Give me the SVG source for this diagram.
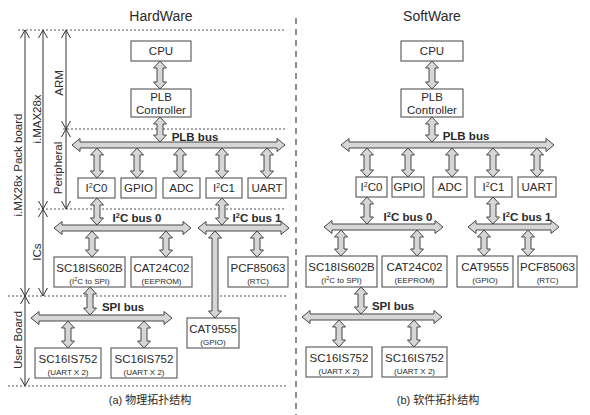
<svg xmlns="http://www.w3.org/2000/svg" width="590" height="415" viewBox="0 0 590 415">
<style>
text{font-family:"Liberation Sans",Arial,sans-serif;fill:#2a2a2a}
.t{font-size:14px;text-anchor:middle}
.b{font-size:11.5px;text-anchor:middle}
.s{font-size:8px;text-anchor:middle}
.bus{font-size:11.5px;font-weight:bold;text-anchor:middle}
.lab{font-size:11.5px;text-anchor:middle}
.cap{font-size:11px;text-anchor:middle;font-family:"Liberation Sans","Noto Sans CJK SC",sans-serif}
.box{fill:#fff;stroke:#555;stroke-width:1.1}
.arr{fill:#d6d6d6;stroke:#474747;stroke-width:1}
.dot{stroke:#555;stroke-width:1;stroke-dasharray:2 2;fill:none}
.dash{stroke:#444;stroke-width:1.2;stroke-dasharray:6 5;fill:none}
.dim{stroke:#333;stroke-width:1;fill:none;marker-start:url(#v);marker-end:url(#v)}
</style>
<defs>
<marker id="v" markerWidth="12" markerHeight="12" refX="0" refY="0" orient="auto-start-reverse" markerUnits="userSpaceOnUse" viewBox="-10 -6 12 12" overflow="visible"><path d="M-8,-4.5 L0,0 L-8,4.5" fill="none" stroke="#333" stroke-width="1"/></marker>
</defs>

<g id="frame">
<line class="dash" x1="296" y1="18" x2="296" y2="415"/>
<line class="dot" x1="18" y1="30" x2="286" y2="30"/>
<line class="dot" x1="63" y1="129" x2="286" y2="129"/>
<line class="dot" x1="38" y1="209" x2="286" y2="209"/>
<line class="dot" x1="8" y1="296" x2="286" y2="296"/>
<line class="dot" x1="8" y1="386" x2="286" y2="386"/>
<line class="dim" x1="25" y1="30" x2="25" y2="296"/>
<line class="dim" x1="25" y1="296" x2="25" y2="386"/>
<line class="dim" x1="43" y1="30" x2="43" y2="209"/>
<line class="dim" x1="43" y1="209" x2="43" y2="296"/>
<line class="dim" x1="66" y1="30" x2="66" y2="129"/>
<line class="dim" x1="66" y1="129" x2="66" y2="209"/>
<text class="lab" transform="translate(22,165) rotate(-90)">i.MX28x Pack board</text>
<text class="lab" transform="translate(22,340) rotate(-90)">User Board</text>
<text class="lab" transform="translate(41,119) rotate(-90)">i.MAX28x</text>
<text class="lab" transform="translate(41,252) rotate(-90)">ICs</text>
<text class="lab" transform="translate(63,83) rotate(-90)">ARM</text>
<text class="lab" transform="translate(62,168) rotate(-90)">Peripheral</text>
<text class="t" x="161" y="21">HardWare</text>
<text class="t" x="432" y="21">SoftWare</text>
<text class="cap" x="150" y="404">(a)  物理拓扑结构</text>
<text class="cap" x="438" y="404">(b)  软件拓扑结构</text>
</g>

<g id="connectors">
<path class="arr" d="M160,61 l6.5,7 h-3.5 V82 h3.5 l-6.5,7 l-6.5,-7 h3.5 V68 h-3.5z"/>
<path class="arr" d="M160,117 l6.5,7 h-3.5 V135 h3.5 l-6.5,7 l-6.5,-7 h3.5 V124 h-3.5z"/>
<path class="arr" d="M72,145 l8,-6.5 v3.5 H277 v-3.5 l8,6.5 l-8,6.5 v-3.5 H80 v3.5z"/>
<path class="arr" d="M97,148 l6.5,7 h-3.5 V171 h3.5 l-6.5,7 l-6.5,-7 h3.5 V155 h-3.5z"/>
<path class="arr" d="M137,148 l6.5,7 h-3.5 V171 h3.5 l-6.5,7 l-6.5,-7 h3.5 V155 h-3.5z"/>
<path class="arr" d="M180,148 l6.5,7 h-3.5 V171 h3.5 l-6.5,7 l-6.5,-7 h3.5 V155 h-3.5z"/>
<path class="arr" d="M222,148 l6.5,7 h-3.5 V171 h3.5 l-6.5,7 l-6.5,-7 h3.5 V155 h-3.5z"/>
<path class="arr" d="M267,148 l6.5,7 h-3.5 V171 h3.5 l-6.5,7 l-6.5,-7 h3.5 V155 h-3.5z"/>
<path class="arr" d="M97,198 l6.5,7 h-3.5 V218 h3.5 l-6.5,7 l-6.5,-7 h3.5 V205 h-3.5z"/>
<path class="arr" d="M54,228 l8,-6.5 v3.5 H183 v-3.5 l8,6.5 l-8,6.5 v-3.5 H62 v3.5z"/>
<path class="arr" d="M222,198 l6.5,7 h-3.5 V218 h3.5 l-6.5,7 l-6.5,-7 h3.5 V205 h-3.5z"/>
<path class="arr" d="M198,228 l8,-6.5 v3.5 H281 v-3.5 l8,6.5 l-8,6.5 v-3.5 H206 v3.5z"/>
<path class="arr" d="M92,231 l6.5,7 h-3.5 V250 h3.5 l-6.5,7 l-6.5,-7 h3.5 V238 h-3.5z"/>
<path class="arr" d="M166,231 l6.5,7 h-3.5 V250 h3.5 l-6.5,7 l-6.5,-7 h3.5 V238 h-3.5z"/>
<path class="arr" d="M257,231 l6.5,7 h-3.5 V250 h3.5 l-6.5,7 l-6.5,-7 h3.5 V238 h-3.5z"/>
<path class="arr" d="M215,231 l6.5,7 h-3.5 V311 h3.5 l-6.5,7 l-6.5,-7 h3.5 V238 h-3.5z"/>
<path class="arr" d="M90,287 l6.5,7 h-3.5 V308 h3.5 l-6.5,7 l-6.5,-7 h3.5 V294 h-3.5z"/>
<path class="arr" d="M31,318 l8,-6.5 v3.5 H164 v-3.5 l8,6.5 l-8,6.5 v-3.5 H39 v3.5z"/>
<path class="arr" d="M68,321 l6.5,7 h-3.5 V341 h3.5 l-6.5,7 l-6.5,-7 h3.5 V328 h-3.5z"/>
<path class="arr" d="M144,321 l6.5,7 h-3.5 V341 h3.5 l-6.5,7 l-6.5,-7 h3.5 V328 h-3.5z"/>

<path class="arr" d="M432,61 l6.5,7 h-3.5 V82 h3.5 l-6.5,7 l-6.5,-7 h3.5 V68 h-3.5z"/>
<path class="arr" d="M432,117 l6.5,7 h-3.5 V135 h3.5 l-6.5,7 l-6.5,-7 h3.5 V124 h-3.5z"/>
<path class="arr" d="M341,145 l8,-6.5 v3.5 H546 v-3.5 l8,6.5 l-8,6.5 v-3.5 H349 v3.5z"/>
<path class="arr" d="M367,148 l6.5,7 h-3.5 V170 h3.5 l-6.5,7 l-6.5,-7 h3.5 V155 h-3.5z"/>
<path class="arr" d="M408,148 l6.5,7 h-3.5 V170 h3.5 l-6.5,7 l-6.5,-7 h3.5 V155 h-3.5z"/>
<path class="arr" d="M452,148 l6.5,7 h-3.5 V170 h3.5 l-6.5,7 l-6.5,-7 h3.5 V155 h-3.5z"/>
<path class="arr" d="M493,148 l6.5,7 h-3.5 V170 h3.5 l-6.5,7 l-6.5,-7 h3.5 V155 h-3.5z"/>
<path class="arr" d="M537,148 l6.5,7 h-3.5 V170 h3.5 l-6.5,7 l-6.5,-7 h3.5 V155 h-3.5z"/>
<path class="arr" d="M367,197 l6.5,7 h-3.5 V217 h3.5 l-6.5,7 l-6.5,-7 h3.5 V204 h-3.5z"/>
<path class="arr" d="M324,227 l8,-6.5 v3.5 H435 v-3.5 l8,6.5 l-8,6.5 v-3.5 H332 v3.5z"/>
<path class="arr" d="M493,197 l6.5,7 h-3.5 V217 h3.5 l-6.5,7 l-6.5,-7 h3.5 V204 h-3.5z"/>
<path class="arr" d="M468,227 l8,-6.5 v3.5 H551 v-3.5 l8,6.5 l-8,6.5 v-3.5 H476 v3.5z"/>
<path class="arr" d="M341,230 l6.5,7 h-3.5 V249 h3.5 l-6.5,7 l-6.5,-7 h3.5 V237 h-3.5z"/>
<path class="arr" d="M417,230 l6.5,7 h-3.5 V249 h3.5 l-6.5,7 l-6.5,-7 h3.5 V237 h-3.5z"/>
<path class="arr" d="M484,230 l6.5,7 h-3.5 V249 h3.5 l-6.5,7 l-6.5,-7 h3.5 V237 h-3.5z"/>
<path class="arr" d="M528,230 l6.5,7 h-3.5 V249 h3.5 l-6.5,7 l-6.5,-7 h3.5 V237 h-3.5z"/>
<path class="arr" d="M361,287 l6.5,7 h-3.5 V307 h3.5 l-6.5,7 l-6.5,-7 h3.5 V294 h-3.5z"/>
<path class="arr" d="M302,317 l8,-6.5 v3.5 H434 v-3.5 l8,6.5 l-8,6.5 v-3.5 H310 v3.5z"/>
<path class="arr" d="M339,320 l6.5,7 h-3.5 V340 h3.5 l-6.5,7 l-6.5,-7 h3.5 V327 h-3.5z"/>
<path class="arr" d="M414,320 l6.5,7 h-3.5 V340 h3.5 l-6.5,7 l-6.5,-7 h3.5 V327 h-3.5z"/>

<text class="bus" x="195" y="141">PLB bus</text>
<text class="bus" x="137" y="222">I<tspan dy="-4" font-size="7.5">2</tspan><tspan dy="4">C bus 0</tspan></text>
<text class="bus" x="257" y="222">I<tspan dy="-4" font-size="7.5">2</tspan><tspan dy="4">C bus 1</tspan></text>
<text class="bus" x="123" y="311">SPI bus</text>
<text class="bus" x="466" y="140">PLB bus</text>
<text class="bus" x="408" y="221">I<tspan dy="-4" font-size="7.5">2</tspan><tspan dy="4">C bus 0</tspan></text>
<text class="bus" x="527" y="221">I<tspan dy="-4" font-size="7.5">2</tspan><tspan dy="4">C bus 1</tspan></text>
<text class="bus" x="393" y="310">SPI bus</text>
</g>

<g id="hw-cpu"><rect class="box" x="131" y="41" width="60" height="20"/><text class="b" x="161" y="55">CPU</text></g>
<g id="hw-plb"><rect class="box" x="131" y="89" width="60" height="28"/><text class="b" x="161" y="101">PLB</text><text class="b" x="161" y="114">Controller</text></g>
<g id="hw-i2c0"><rect class="box" x="78" y="178" width="37" height="20"/><text class="b" x="96.5" y="192">I<tspan dy="-4" font-size="7">2</tspan><tspan dy="4">C0</tspan></text></g>
<g id="hw-gpio"><rect class="box" x="121" y="178" width="35" height="20"/><text class="b" x="138.5" y="192">GPIO</text></g>
<g id="hw-adc"><rect class="box" x="163" y="178" width="37" height="20"/><text class="b" x="181.5" y="192">ADC</text></g>
<g id="hw-i2c1"><rect class="box" x="206" y="178" width="36" height="20"/><text class="b" x="224" y="192">I<tspan dy="-4" font-size="7">2</tspan><tspan dy="4">C1</tspan></text></g>
<g id="hw-uart"><rect class="box" x="248" y="178" width="38" height="20"/><text class="b" x="267" y="192">UART</text></g>
<g id="hw-sc18"><rect class="box" x="54" y="257" width="71" height="30"/><text class="b" x="89.5" y="272">SC18IS602B</text><text class="s" x="89.5" y="283.5">(I<tspan dy="-3" font-size="5.5">2</tspan><tspan dy="3">C to SPI)</tspan></text></g>
<g id="hw-cat24"><rect class="box" x="131" y="257" width="61" height="30"/><text class="b" x="161.5" y="272">CAT24C02</text><text class="s" x="161.5" y="283.5">(EEPROM)</text></g>
<g id="hw-pcf"><rect class="box" x="228" y="257" width="60" height="30"/><text class="b" x="258" y="272">PCF85063</text><text class="s" x="258" y="283.5">(RTC)</text></g>
<g id="hw-cat9555"><rect class="box" x="187" y="318" width="52" height="30"/><text class="b" x="213" y="333">CAT9555</text><text class="s" x="213" y="344.5">(GPIO)</text></g>
<g id="hw-sc16a"><rect class="box" x="35" y="348" width="66" height="30"/><text class="b" x="68" y="363">SC16IS752</text><text class="s" x="68" y="374.5">(UART X 2)</text></g>
<g id="hw-sc16b"><rect class="box" x="111" y="348" width="66" height="30"/><text class="b" x="144" y="363">SC16IS752</text><text class="s" x="144" y="374.5">(UART X 2)</text></g>

<g id="sw-cpu"><rect class="box" x="401" y="41" width="62" height="20"/><text class="b" x="432" y="55">CPU</text></g>
<g id="sw-plb"><rect class="box" x="401" y="89" width="62" height="28"/><text class="b" x="432" y="101">PLB</text><text class="b" x="432" y="114">Controller</text></g>
<g id="sw-i2c0"><rect class="box" x="356" y="177" width="31" height="20"/><text class="b" x="371.5" y="191">I<tspan dy="-4" font-size="7">2</tspan><tspan dy="4">C0</tspan></text></g>
<g id="sw-gpio"><rect class="box" x="392" y="177" width="32" height="20"/><text class="b" x="408" y="191">GPIO</text></g>
<g id="sw-adc"><rect class="box" x="433" y="177" width="34" height="20"/><text class="b" x="450" y="191">ADC</text></g>
<g id="sw-i2c1"><rect class="box" x="475" y="177" width="37" height="20"/><text class="b" x="493.5" y="191">I<tspan dy="-4" font-size="7">2</tspan><tspan dy="4">C1</tspan></text></g>
<g id="sw-uart"><rect class="box" x="518" y="177" width="38" height="20"/><text class="b" x="537" y="191">UART</text></g>
<g id="sw-sc18"><rect class="box" x="306" y="256" width="71" height="31"/><text class="b" x="341.5" y="271">SC18IS602B</text><text class="s" x="341.5" y="283">(I<tspan dy="-3" font-size="5.5">2</tspan><tspan dy="3">C to SPI)</tspan></text></g>
<g id="sw-cat24"><rect class="box" x="382" y="256" width="65" height="31"/><text class="b" x="414.5" y="271">CAT24C02</text><text class="s" x="414.5" y="283">(EEPROM)</text></g>
<g id="sw-cat9555"><rect class="box" x="457" y="256" width="56" height="31"/><text class="b" x="485" y="271">CAT9555</text><text class="s" x="485" y="283">(GPIO)</text></g>
<g id="sw-pcf"><rect class="box" x="518" y="256" width="59" height="31"/><text class="b" x="547.5" y="271">PCF85063</text><text class="s" x="547.5" y="283">(RTC)</text></g>
<g id="sw-sc16a"><rect class="box" x="306" y="347" width="66" height="30"/><text class="b" x="339" y="362">SC16IS752</text><text class="s" x="339" y="373.5">(UART X 2)</text></g>
<g id="sw-sc16b"><rect class="box" x="382" y="347" width="65" height="30"/><text class="b" x="414.5" y="362">SC16IS752</text><text class="s" x="414.5" y="373.5">(UART X 2)</text></g>
</svg>
